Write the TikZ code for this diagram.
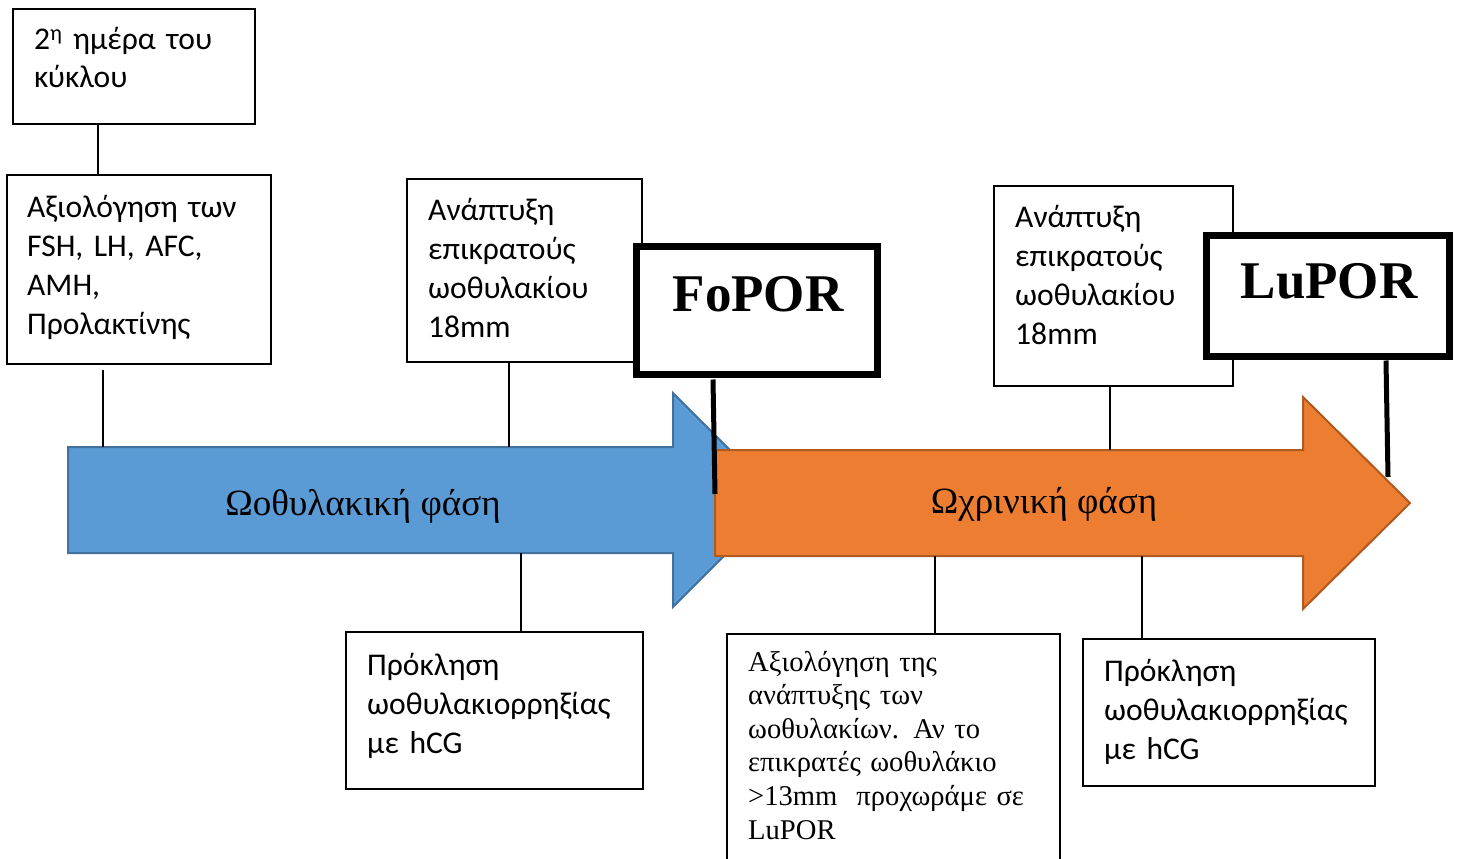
\documentclass[tikz,border=0pt]{standalone}
\usepackage{fontspec}
\setmainfont{Liberation Serif}
\newfontfamily\calfont{Carlito}
\definecolor{blueFill}{HTML}{5B9BD5}
\definecolor{blueLine}{HTML}{41719C}
\definecolor{orangeFill}{HTML}{ED7D31}
\definecolor{orangeLine}{HTML}{AE5A21}
\begin{document}
\begin{tikzpicture}[x=1pt,y=-1pt,
  box/.style={draw=black, line width=1.2pt, fill=white, rectangle, inner sep=0pt, outer sep=0pt, anchor=north west},
  bigbox/.style={draw=black, line width=7pt, fill=white, rectangle, inner sep=0pt, outer sep=0pt, anchor=north west},
  sanstxt/.style={anchor=base west, inner sep=0pt, align=left, text width=320pt, font=\calfont\fontsize{31.6}{39}\selectfont},
  seriftxt/.style={anchor=base west, inner sep=0pt, align=left, text width=330pt, font=\fontsize{28.6}{33.6}\selectfont},
  arrowlbl/.style={anchor=base, inner sep=0pt, font=\fontsize{37}{42}\selectfont},
  porlbl/.style={anchor=base, inner sep=0pt, font=\bfseries\fontsize{53}{60}\selectfont},
  conn/.style={draw=black, line width=1.2pt},
  stick/.style={draw=black, line width=5pt},
  bluearrow/.style={fill=blueFill, draw=blueLine, line width=2pt, line join=miter},
  orangearrow/.style={fill=orangeFill, draw=orangeLine, line width=2pt, line join=miter}
]
\useasboundingbox (0,0) rectangle (1459,859);
\clip (0,0) rectangle (1459,859);

% arrows
\draw[bluearrow] (68,447) -- (673,447) -- (673,393) -- (780,500) -- (673,607) -- (673,553) -- (68,553) -- cycle;
\draw[orangearrow] (715,450) -- (1303,450) -- (1303,397) -- (1410,503) -- (1303,609) -- (1303,556) -- (715,556) -- cycle;
\coordinate (blueTop) at (0,447);
\coordinate (blueBot) at (0,553);
\coordinate (orangeTop) at (0,450);
\coordinate (orangeBot) at (0,556);
\node[arrowlbl] (bluelbl) at (363,515) {Ωοθυλακική φάση};
\node[arrowlbl] (orangelbl) at (1044,513) {Ωχρινική φάση};

% boxes
\node[box, minimum width=242pt, minimum height=115pt] (b1) at (13,9) {};
\node[box, minimum width=264pt, minimum height=189pt] (b2) at (7,175) {};
\node[box, minimum width=235pt, minimum height=183pt] (b3) at (407,179) {};
\node[box, minimum width=239pt, minimum height=200pt] (b5) at (994,186) {};
\node[box, minimum width=297pt, minimum height=157pt] (b7) at (346,632) {};
\node[box, minimum width=333pt, minimum height=240pt] (b8) at (727,634) {};
\node[box, minimum width=292pt, minimum height=147pt] (b9) at (1083,639) {};
\node[bigbox, minimum width=241pt, minimum height=128pt] (fopor) at (636.5,246.5) {};
\node[bigbox, minimum width=243pt, minimum height=121pt] (lupor) at (1206.5,235.5) {};

% connectors
\draw[conn] (b1.south -| 98,0) -- (b2.north -| 98,0);
\draw[conn] ([yshift=-6pt]b2.south -| 103,0) -- (blueTop -| 103,0);
\draw[conn] (b3.south -| 509,0) -- (blueTop -| 509,0);
\draw[conn] (b5.south -| 1110,0) -- (orangeTop -| 1110,0);
\draw[conn] (blueBot -| 521,0) -- (b7.north -| 521,0);
\draw[conn] (orangeBot -| 935,0) -- (b8.north -| 935,0);
\draw[conn] (orangeBot -| 1142,0) -- (b9.north -| 1142,0);
\coordinate (foporEnd) at (715,494);
\coordinate (luporEnd) at (1388,477);
\draw[stick] ([yshift=-5pt]fopor.south -| 713,0) -- (foporEnd);
\draw[stick] ([yshift=-4pt]lupor.south -| 1386,0) -- (luporEnd);

% texts
\node[sanstxt] (t1) at (34,50) {2\textsuperscript{η} ημέρα του\\[-1pt]κύκλου};
\node[sanstxt] (t2) at (27,217) {Αξιολόγηση των\\FSH, LH, AFC,\\AMH,\\Προλακτίνης};
\node[sanstxt] (t3) at (428,220) {Ανάπτυξη\\επικρατούς\\ωοθυλακίου\\18mm};
\node[sanstxt] (t5) at (1015,227) {Ανάπτυξη\\επικρατούς\\ωοθυλακίου\\18mm};
\node[sanstxt] (t7) at (367,675) {Πρόκληση\\ωοθυλακιορρηξίας\\με hCG};
\node[sanstxt] (t9) at (1104,681) {Πρόκληση\\ωοθυλακιορρηξίας\\με hCG};
\node[seriftxt] (t8) at (748,671) {Αξιολόγηση της\\ανάπτυξης των\\ωοθυλακίων. Αν το\\επικρατές ωοθυλάκιο\\>13mm\ \ προχωράμε σε\\LuPOR};
\node[porlbl] (foporlbl) at (758,311) {FoPOR};
\node[porlbl] (luporlbl) at (1329,298) {LuPOR};
\end{tikzpicture}
\end{document}
